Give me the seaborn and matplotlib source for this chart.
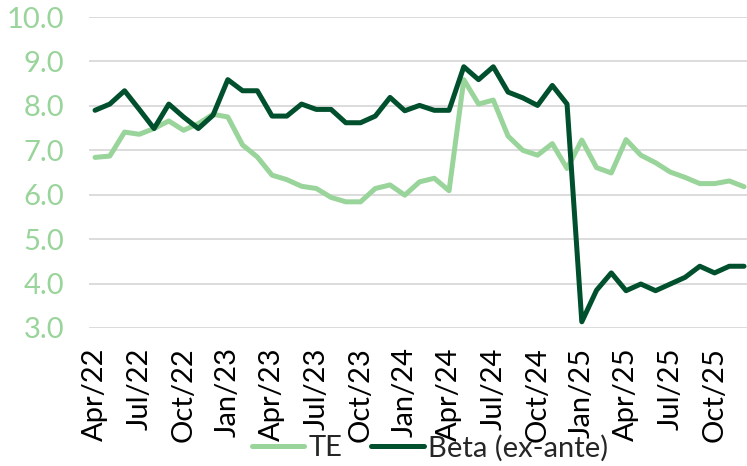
import pandas as pd
import matplotlib
matplotlib.use('Agg')
import matplotlib.pyplot as plt
import seaborn as sns

# Monthly data, Apr/22 .. Dec/25
months = pd.date_range("2022-04-01", "2025-12-01", freq="MS")
month_labels = [d.strftime("%b/%y") for d in months]

te = [6.84, 6.87, 7.41, 7.36, 7.49, 7.66, 7.45, 7.60, 7.81, 7.75,
      7.12, 6.85, 6.44, 6.34, 6.19, 6.14, 5.94, 5.84, 5.84, 6.14,
      6.22, 5.99, 6.29, 6.37, 6.09, 8.59, 8.04, 8.13, 7.32, 7.00,
      6.89, 7.15, 6.59, 7.23, 6.61, 6.49, 7.24, 6.89, 6.72, 6.51,
      6.39, 6.25, 6.25, 6.31, 6.18]
beta = [7.90, 8.04, 8.34, 7.92, 7.49, 8.04, 7.75, 7.49, 7.79, 8.59,
        8.34, 8.34, 7.77, 7.77, 8.04, 7.92, 7.92, 7.62, 7.62, 7.77,
        8.19, 7.89, 8.01, 7.90, 7.90, 8.88, 8.59, 8.88, 8.31, 8.18,
        8.01, 8.46, 8.04, 3.14, 3.85, 4.24, 3.84, 3.99, 3.84, 3.99,
        4.14, 4.39, 4.24, 4.39, 4.39]
series_names = ["TE", "Beta (ex-ante)"]
colors = ["#99D49A", "#004F2D"]
tick_every = 3

df = pd.DataFrame({
    "idx": list(range(len(months))) * 2,
    "value": te + beta,
    "series": [series_names[0]] * len(te) + [series_names[1]] * len(beta),
})

sns.set_style("white")
plt.rcParams['font.family'] = ['Lato', 'DejaVu Sans']

fig = plt.figure(figsize=(7.47, 4.66), dpi=100)
ax = fig.add_axes([89 / 747, 1 - 328 / 466, 1 - 89 / 747, (328 - 17) / 466])

sns.lineplot(data=df, x="idx", y="value", hue="series", hue_order=series_names,
             palette=colors, linewidth=3.6, ax=ax, legend=True)

ax.set_ylim(3, 10)
ax.set_xlim(-0.41, len(months) - 1 + 0.2)
ax.set_yticks([3, 4, 5, 6, 7, 8, 9, 10])
ax.set_yticklabels([f"{v:.1f}" for v in [3, 4, 5, 6, 7, 8, 9, 10]])
ticks = list(range(0, len(months), tick_every))
ax.set_xticks(ticks)
ax.set_xticklabels([month_labels[i] for i in ticks], rotation=90)
ax.grid(axis="y", color="#D9D9D9", linewidth=1.3)
ax.set_axisbelow(True)
for s in ax.spines.values():
    s.set_visible(False)
ax.tick_params(axis="y", colors=colors[0], labelsize=21, pad=18, length=0)
ax.tick_params(axis="x", colors="black", labelsize=21, pad=14, length=0)
ax.set_xlabel("")
ax.set_ylabel("")

handles, labels = ax.get_legend_handles_labels()
ax.legend(handles, labels, loc="center", bbox_to_anchor=(430 / 747, 1 - 448 / 466),
          bbox_transform=fig.transFigure, ncol=2, frameon=False, fontsize=21,
          handlelength=1.8, columnspacing=1.0, handletextpad=0.15)

fig.savefig("out.png", dpi=100)
